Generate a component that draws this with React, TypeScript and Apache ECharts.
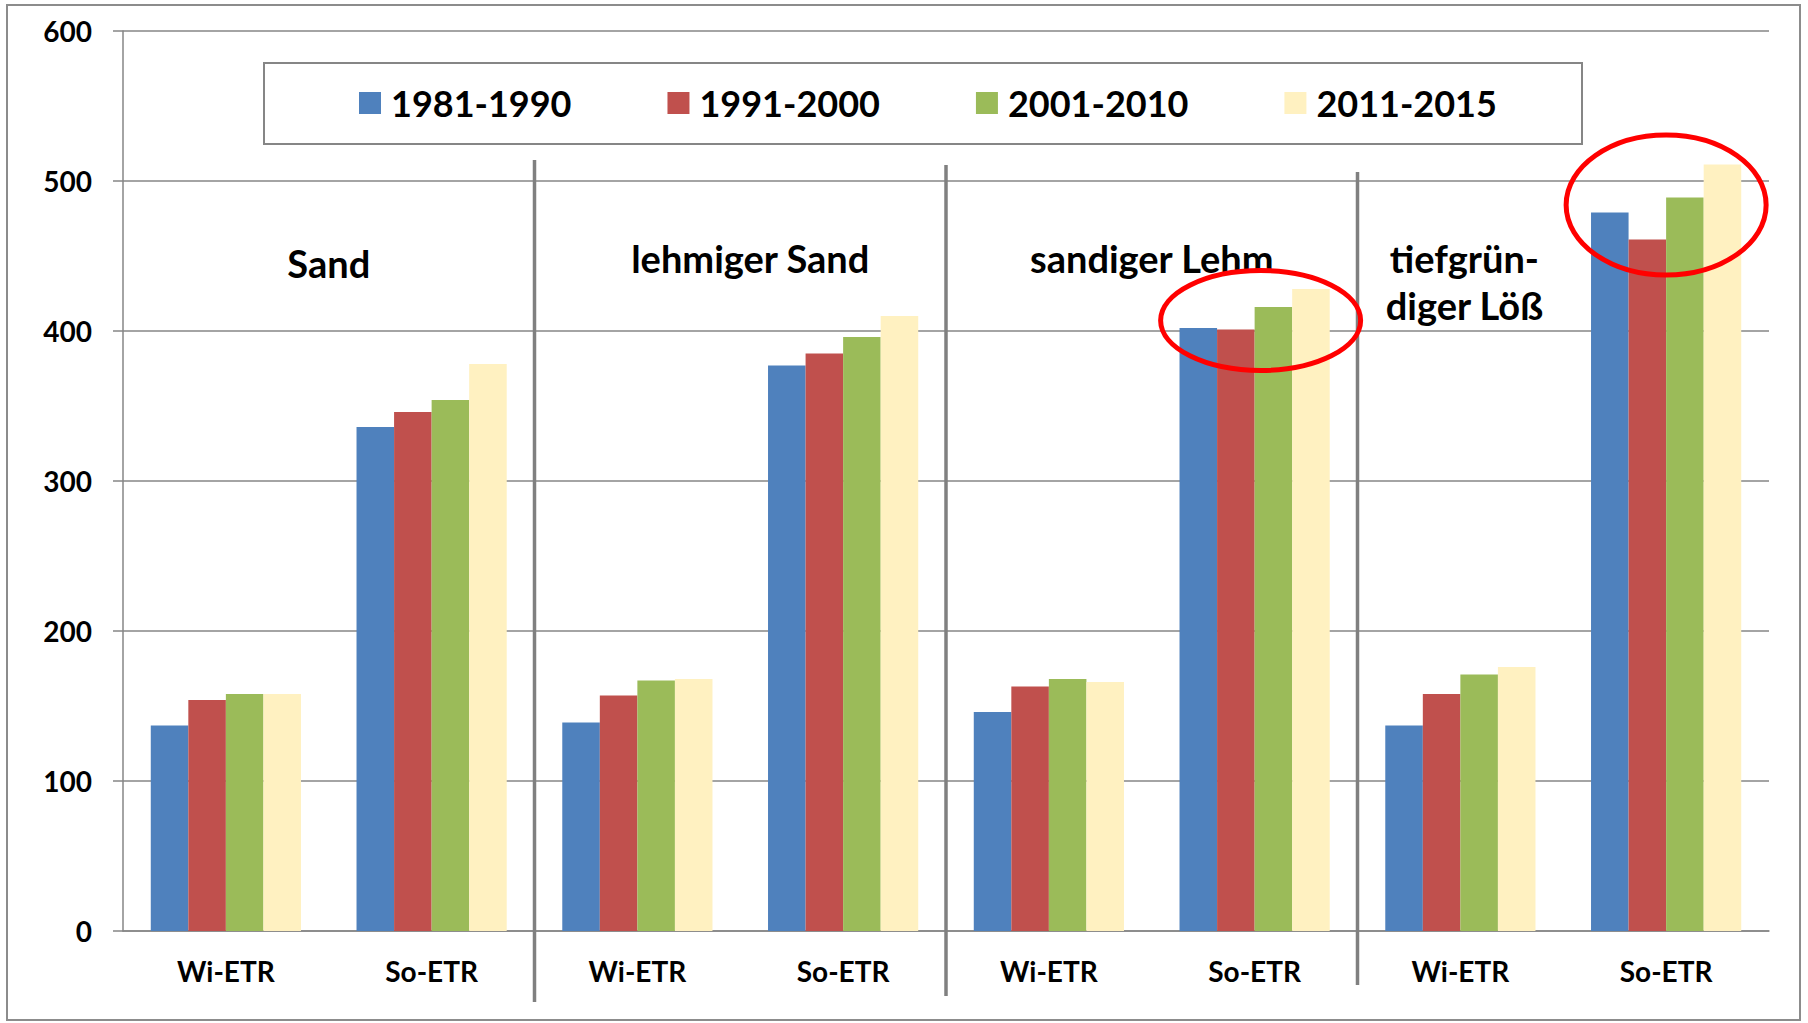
import React, { useEffect, useRef } from "react";
import * as echarts from "echarts";

const categories = ["Wi-ETR", "So-ETR", "Wi-ETR", "So-ETR", "Wi-ETR", "So-ETR", "Wi-ETR", "So-ETR"];
const soils = ["Sand", "lehmiger Sand", "sandiger Lehm", "tiefgrün-\ndiger Löß"];
const seriesNames = ["1981-1990", "1991-2000", "2001-2010", "2011-2015"];
const v1981_1990 = [137, 336, 139, 377, 146, 402, 137, 479];
const v1991_2000 = [154, 346, 157, 385, 163, 401, 158, 461];
const v2001_2010 = [158, 354, 167, 396, 168, 416, 171, 489];
const v2011_2015 = [158, 378, 168, 410, 166, 428, 176, 511];
const yTicks = [0, 100, 200, 300, 400, 500, 600];
const colors = ["#4F81BD", "#C0504D", "#9BBB59", "#FFF1C1"];

const FONT = "Lato, 'Open Sans', sans-serif";
const GRAY = "#868686";

export default function App() {
  const ref = useRef<HTMLDivElement>(null);
  useEffect(() => {
    document.body.style.margin = "0";
    const chart = echarts.init(ref.current!, undefined, { renderer: "svg" });
    const values = [v1981_1990, v1991_2000, v2001_2010, v2011_2015];
    chart.setOption({
      animation: false,
      backgroundColor: "#ffffff",
      color: colors,
      grid: { left: 123, right: 39, top: 31, bottom: 92, containLabel: false },
      legend: {
        data: seriesNames,
        left: 354,
        top: 80,
        icon: "rect",
        itemWidth: 22,
        itemHeight: 22,
        itemGap: 96,
        textStyle: { fontFamily: FONT, fontWeight: "bold", fontSize: 36, color: "#000", padding: [0, 0, 0, 5] },
      },
      xAxis: {
        type: "category",
        data: categories,
        axisLine: { lineStyle: { color: GRAY, width: 1.5 } },
        axisTick: { length: 10, lineStyle: { color: GRAY, width: 1.5 } },
        axisLabel: { fontFamily: FONT, fontWeight: "bold", fontSize: 28, color: "#000", margin: 26 },
      },
      yAxis: {
        type: "value",
        min: yTicks[0],
        max: yTicks[yTicks.length - 1],
        interval: 100,
        axisLine: { show: true, lineStyle: { color: GRAY, width: 1.5 } },
        axisTick: { show: true, length: 10, lineStyle: { color: GRAY, width: 1.5 } },
        axisLabel: { fontFamily: FONT, fontWeight: "bold", fontSize: 28, color: "#000", margin: 31 },
        splitLine: { lineStyle: { color: GRAY, width: 1.5 } },
      },
      series: seriesNames.map((n, i) => ({
        name: n,
        type: "bar",
        data: values[i],
        barGap: "0%",
        barCategoryGap: "27%",
        itemStyle: { color: colors[i] },
      })),
    });

    const px = (i: number, v: number) => chart.convertToPixel({ gridIndex: 0 }, [i, v]) as number[];
    const bx = (i: number) => (px(i, 0)[0] + px(i + 1, 0)[0]) / 2;
    const dividerTops = [160, 165, 172];
    const dividerBottoms = [1002, 996, 985];
    const graphics: any[] = [];
    graphics.push({
      type: "rect",
      shape: { x: 7, y: 5, width: 1793, height: 1015 },
      style: { fill: "none", stroke: "#8c8c8c", lineWidth: 2 },
      silent: true,
      z: -1,
    });
    graphics.push({
      type: "rect",
      shape: { x: 264, y: 63, width: 1318, height: 81 },
      style: { fill: "none", stroke: GRAY, lineWidth: 2 },
      silent: true,
    });
    [1, 2, 3].forEach((k, j) => {
      const x = bx(2 * k - 1);
      graphics.push({
        type: "line",
        shape: { x1: x, y1: dividerTops[j], x2: x, y2: dividerBottoms[j] },
        style: { stroke: "#808080", lineWidth: 3.5 },
        z: 10,
      });
    });
    const labelPos = [
      [bx(0), 263],
      [bx(2) + 10, 258],
      [bx(4), 258],
      [px(6, 0)[0] + 4, 281],
    ];
    soils.forEach((s, i) => {
      graphics.push({
        type: "text",
        x: labelPos[i][0],
        y: labelPos[i][1],
        style: {
          text: s,
          fontFamily: FONT,
          fontWeight: "bold",
          fontSize: 38,
          lineHeight: 47,
          fill: "#000",
          align: "center",
          verticalAlign: "middle",
        },
        z: 10,
      });
    });
    const e1 = px(5, 407);
    const e2 = px(7, 484);
    graphics.push({
      type: "ellipse",
      shape: { cx: e1[0] + 6, cy: e1[1], rx: 100, ry: 50 },
      style: { fill: "none", stroke: "#FF0000", lineWidth: 5 },
      z: 20,
    });
    graphics.push({
      type: "ellipse",
      shape: { cx: e2[0], cy: e2[1], rx: 100, ry: 70 },
      style: { fill: "none", stroke: "#FF0000", lineWidth: 5 },
      z: 20,
    });
    chart.setOption({ graphic: graphics });
    return () => chart.dispose();
  }, []);
  return <div ref={ref} style={{ position: "absolute", left: 0, top: 0, width: 1808, height: 1023 }} />;
}
